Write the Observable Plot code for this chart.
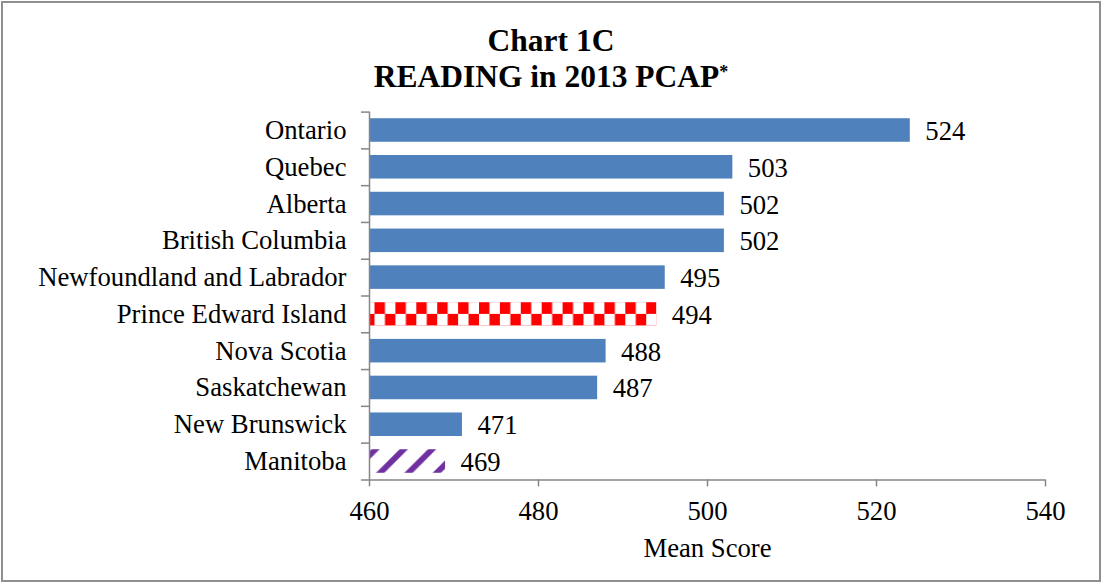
<!DOCTYPE html>
<html>
<head>
<meta charset="utf-8">
<script src="https://cdn.jsdelivr.net/npm/d3@7"></script>
<script src="https://cdn.jsdelivr.net/npm/@observablehq/plot@0.6"></script>
<style>
  html, body { margin: 0; padding: 0; background: #fff; }
  #wrap { position: relative; width: 1102px; height: 583px; overflow: hidden; background: #fff; }
  #border { position: absolute; left: 1px; top: 1px; width: 1100px; height: 581px; box-sizing: border-box; border: 2px solid #8f8f8f; pointer-events: none; }
  #title { position: absolute; left: 0; top: 0; width: 1102px; height: 104px; box-sizing: border-box; padding-top: 22.5px;
           text-align: center; font-family: "Liberation Serif", "Times New Roman", serif; font-weight: bold; font-size: 31.5px; line-height: 36px; color: #000; }
  #title .ast { font-size: 18px; position: relative; top: -9px; vertical-align: baseline; }
  #chart { position: absolute; left: 0; top: 104px; }
  #defs { position: absolute; width: 0; height: 0; left: 0; top: 0; }
</style>
</head>
<body>
<div id="wrap">
  <div id="title">Chart 1C<br>READING in 2013 PCAP<span class="ast">*</span></div>
  <div id="chart"></div>
  <div id="border"></div>
</div>
<svg id="defs" width="0" height="0"></svg>
<script>
// ---- data ----
const categories = ["Ontario", "Quebec", "Alberta", "British Columbia", "Newfoundland and Labrador",
                    "Prince Edward Island", "Nova Scotia", "Saskatchewan", "New Brunswick", "Manitoba"];
const scores = [524, 503, 502, 502, 495, 494, 488, 487, 471, 469];
const xTicks = [460, 480, 500, 520, 540];
const checkerCategories = ["Prince Edward Island"];
const hatchCategories = ["Manitoba"];
const xLabel = "Mean Score";

// ---- layout ----
const W = 1102, H = 479;
const mL = 369, mR = 57, mT = 7.6, mB = 103.6;
const n = categories.length;
const step = (H - mT - mB) / n;
const ppu = (W - mL - mR) / (xTicks[xTicks.length - 1] - xTicks[0]);
const tickLen = 8;
const gray = "#868686";
const blue = "#4F81BD";
const font = "'Liberation Serif', 'Times New Roman', serif";
const fs = 26.7;

const data = categories.map((name, i) => ({name, score: scores[i]}));
const plain = data.filter(d => !checkerCategories.includes(d.name) && !hatchCategories.includes(d.name));
const checker = data.filter(d => checkerCategories.includes(d.name));
const hatch = data.filter(d => hatchCategories.includes(d.name));
const xMin = xTicks[0], xMax = xTicks[xTicks.length - 1];

const plot = Plot.plot({
  width: W, height: H,
  marginLeft: mL, marginRight: mR, marginTop: mT, marginBottom: mB,
  style: {fontFamily: font, fontSize: fs + "px", color: "#000", background: "transparent", overflow: "visible"},
  x: {domain: [xMin, xMax], axis: null},
  y: {domain: categories, paddingInner: 0.36, paddingOuter: 0.18, round: false, axis: null},
  marks: [
    Plot.barX(plain, {y: "name", x1: xMin, x2: "score", fill: blue}),
    Plot.barX(checker, {y: "name", x1: xMin, x2: "score", fill: "url(#checker)"}),
    Plot.barX(hatch, {y: "name", x1: xMin, x2: "score", fill: "url(#hatch)"}),
    Plot.text(data, {y: "name", x: "score", text: d => String(d.score), textAnchor: "start", dx: 15, dy: 1, fontSize: fs, fill: "#000"}),
    // y axis line
    Plot.ruleX([xMin], {stroke: gray, strokeWidth: 1.5}),
    // y boundary ticks
    Plot.ruleY(categories, {y: d => d, dy: -step / 2, x1: xMin - tickLen / ppu, x2: xMin, stroke: gray, strokeWidth: 1.5}),
    // bottom boundary + x axis line
    Plot.ruleY([categories[n - 1]], {y: d => d, dy: step / 2, x1: xMin - tickLen / ppu, x2: xMax, stroke: gray, strokeWidth: 1.5}),
    Plot.axisY({tickSize: 0, tickPadding: 23, fontSize: fs, label: null, fill: "#000"}),
    Plot.axisX({ticks: xTicks, tickSize: 7, tickPadding: 14, fontSize: fs, label: null, stroke: gray, strokeWidth: 1.5, fill: "#000"}),
    Plot.text([xLabel], {text: d => d, frameAnchor: "bottom", dy: 77, fontSize: fs, fill: "#000"})
  ]
});
document.getElementById("chart").appendChild(plot);

// ---- patterns (placed via the scales) ----
const ys = plot.scale("y");
const xs = plot.scale("x");
const bw = ys.bandwidth;
const ns = "http://www.w3.org/2000/svg";
const defsSvg = document.getElementById("defs");
const defs = document.createElementNS(ns, "defs");
defsSvg.appendChild(defs);
function el(tag, attrs, parent) {
  const e = document.createElementNS(ns, tag);
  for (const k in attrs) e.setAttribute(k, attrs[k]);
  parent.appendChild(e);
  return e;
}
const barStart = xs.apply(xMin);
const pTop = ys.apply(checkerCategories[0]);
const cell = 10.45;
const cp = el("pattern", {id: "checker", patternUnits: "userSpaceOnUse", x: barStart + 5.5, y: pTop, width: cell * 2, height: bw}, defs);
el("rect", {x: 0, y: 0, width: cell * 2, height: bw, fill: "#fff"}, cp);
el("rect", {x: 0, y: 0, width: cell, height: bw / 2, fill: "#FF0000"}, cp);
el("rect", {x: cell, y: bw / 2, width: cell, height: bw / 2, fill: "#FF0000"}, cp);

// diagonal "/" hatch: horizontal period P, stripe centre crossing the bar top at barStart + 6.5
const hTop = ys.apply(hatchCategories[0]);
const P = 28.3, sw = 5.8;
const hx = barStart + 6.5;
const hp = el("pattern", {id: "hatch", patternUnits: "userSpaceOnUse", x: hx, y: hTop, width: P, height: P}, defs);
el("rect", {x: 0, y: 0, width: P, height: P, fill: "#fff"}, hp);
el("path", {d: `M${-P / 2},${P / 2}L${P / 2},${-P / 2}M0,${P}L${P},0M${P / 2},${1.5 * P}L${1.5 * P},${P / 2}`,
            stroke: "#7030A0", "stroke-width": sw, fill: "none"}, hp);
</script>
</body>
</html>
